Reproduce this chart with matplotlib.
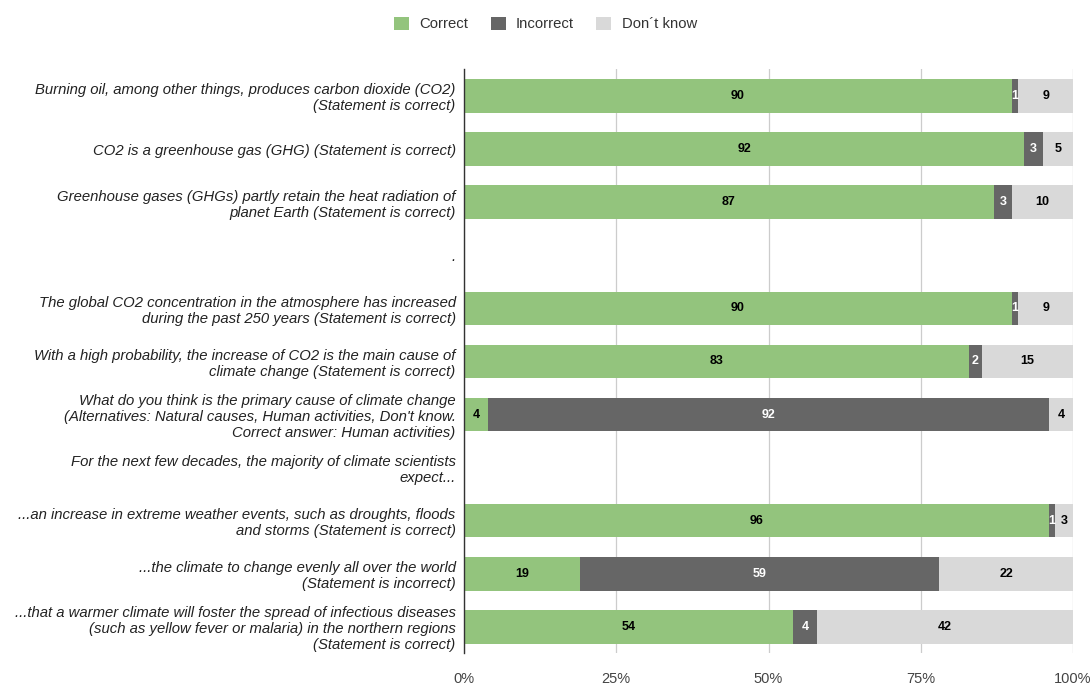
import matplotlib.pyplot as plt
import numpy as np
from matplotlib.patches import Patch

plt.rcParams['font.family'] = ['Liberation Sans', 'DejaVu Sans']

labels = [
    'Burning oil, among other things, produces carbon dioxide (CO2)\n(Statement is correct)',
    'CO2 is a greenhouse gas (GHG) (Statement is correct)',
    'Greenhouse gases (GHGs) partly retain the heat radiation of\nplanet Earth (Statement is correct)',
    '.',
    'The global CO2 concentration in the atmosphere has increased\nduring the past 250 years (Statement is correct)',
    'With a high probability, the increase of CO2 is the main cause of\nclimate change (Statement is correct)',
    "What do you think is the primary cause of climate change\n(Alternatives: Natural causes, Human activities, Don't know.\nCorrect answer: Human activities)",
    'For the next few decades, the majority of climate scientists\nexpect...',
    '...an increase in extreme weather events, such as droughts, floods\nand storms (Statement is correct)',
    '...the climate to change evenly all over the world\n(Statement is incorrect)',
    '...that a warmer climate will foster the spread of infectious diseases\n(such as yellow fever or malaria) in the northern regions\n(Statement is correct)',
]
correct = [90, 92, 87, 0, 90, 83, 4, 0, 96, 19, 54]
incorrect = [1, 3, 3, 0, 1, 2, 92, 0, 1, 59, 4]
dont_know = [9, 5, 10, 0, 9, 15, 4, 0, 3, 22, 42]

series = [('Correct', correct, '#93c47d', 'black'),
          ('Incorrect', incorrect, '#666666', 'white'),
          ('Don\u00b4t know', dont_know, '#d9d9d9', 'black')]

fig = plt.figure(figsize=(10.91, 6.84), dpi=100)
ax = fig.add_axes([0.4253, 0.0446, 0.5582, 0.854])

y = np.arange(len(labels))
left = np.zeros(len(labels))
for name, vals, col, tcol in series:
    vals = np.array(vals, dtype=float)
    ax.barh(y, vals, left=left, height=0.63, color=col, zorder=3)
    for yi, (l, v) in enumerate(zip(left, vals)):
        if v > 0:
            ax.text(l + v / 2, yi, str(int(v)), ha='center', va='center',
                    fontsize=9, fontweight='bold', color=tcol, zorder=4)
    left += vals

ax.set_xlim(0, 100)
ax.set_ylim(len(labels) - 0.5, -0.5)
ax.set_yticks(y)
ax.set_yticklabels(labels, fontsize=10.7, style='italic', color='#222222',
                   linespacing=1.18)
ax.set_xticks([0, 25, 50, 75, 100])
ax.set_xticklabels(['0%', '25%', '50%', '75%', '100%'], fontsize=10.5, color='#444444')
ax.tick_params(axis='y', length=0, pad=6)
ax.tick_params(axis='x', length=0, pad=13)
ax.grid(axis='x', color='#cccccc', linewidth=0.9, zorder=0)
for s in ['top', 'right', 'bottom']:
    ax.spines[s].set_visible(False)
ax.spines['left'].set_color('#333333')
ax.spines['left'].set_linewidth(1.0)
ax.spines['left'].set_zorder(5)

handles = [Patch(facecolor=c, edgecolor='none', label=n) for n, _, c, _ in series]
fig.legend(handles=handles, loc='center', bbox_to_anchor=(0.5, 0.965), ncol=3,
           frameon=False, fontsize=10.7, handlelength=1.0, handleheight=1.0,
           columnspacing=1.5, handletextpad=0.7, labelcolor='#333333')

plt.savefig('out.png', dpi=100)
